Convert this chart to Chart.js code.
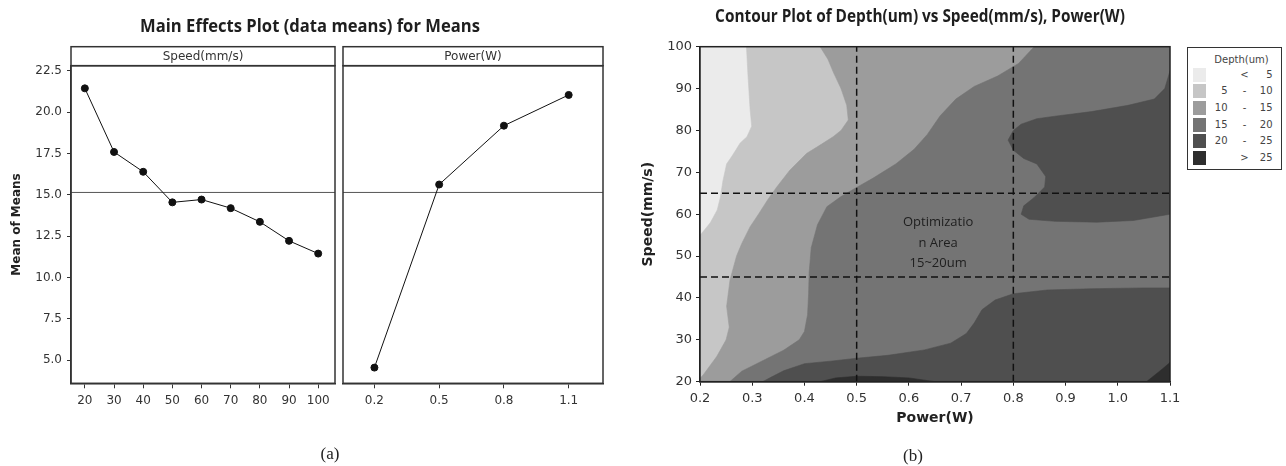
<!DOCTYPE html>
<html><head><meta charset="utf-8">
<script src="https://cdn.jsdelivr.net/npm/chart.js@4.4.1/dist/chart.umd.min.js"></script>
<style>
html,body{margin:0;padding:0;background:#fff;}
#wrap{position:relative;width:1286px;height:466px;overflow:hidden;background:#fff;}
canvas{position:absolute;top:0;}
.title{position:absolute;white-space:nowrap;font-family:"Open Sans",sans-serif;font-weight:700;color:#1e1e1e;transform-origin:center center;line-height:1;}
.cap{position:absolute;font-family:"Liberation Serif",serif;font-size:17px;color:#222;transform:translate(-50%,-50%);line-height:1;}
#legend{position:absolute;left:1187px;top:47px;width:95px;height:123px;border:1.5px solid #333;box-sizing:border-box;font-family:"DejaVu Sans",sans-serif;font-size:10px;color:#444;background:#fff;}
#legend .lgt{position:absolute;left:0;width:100%;top:6px;text-align:center;padding-left:14px;box-sizing:border-box;}
#legend .lgr{position:absolute;left:0;width:100%;height:14px;line-height:14px;}
#legend .sw{position:absolute;left:4.5px;top:0;width:13px;height:14px;}
#legend .l1{position:absolute;left:0;width:39.5px;text-align:right;}
#legend .l2{position:absolute;left:50.5px;width:12px;text-align:center;}
#legend .l3{position:absolute;left:58px;width:26.5px;text-align:right;}
</style></head>
<body><div id="wrap">
<canvas id="cSpeed" width="340" height="466" style="left:0px"></canvas>
<canvas id="cPower" width="282" height="466" style="left:338px"></canvas>
<canvas id="cContour" width="646" height="466" style="left:640px"></canvas>
<div class="title" id="t1">Main Effects Plot (data means) for Means</div>
<div class="title" id="t2">Contour Plot of Depth(um) vs Speed(mm/s), Power(W)</div>
<div class="cap" style="left:330px;top:453px">(a)</div>
<div class="cap" style="left:913px;top:455px">(b)</div>
<div id="legend"></div>
</div>
<script>
// ---------- (a) Main effects data ----------
const speedLevels = [20, 30, 40, 50, 60, 70, 80, 90, 100];
const speedMeans  = [21.45, 17.6, 16.4, 14.55, 14.72, 14.2, 13.37, 12.22, 11.45];
const powerLevels = [0.2, 0.5, 0.8, 1.1];
const powerMeans  = [4.55, 15.63, 19.19, 21.05];
const grandMean   = 15.15;
const meanTicks   = [5, 7.5, 10, 12.5, 15, 17.5, 20, 22.5];
const meanRange   = [3.6, 22.82];
const speedRange  = [15.25, 105.76];
const powerRange  = [0.0545, 1.259];

// ---------- (b) Contour data ----------
const powerTicks = [0.2, 0.3, 0.4, 0.5, 0.6, 0.7, 0.8, 0.9, 1.0, 1.1];
const speedTicks = [20, 30, 40, 50, 60, 70, 80, 90, 100];
const bandColors = ['#ebebeb', '#c6c6c6', '#9c9c9c', '#747474', '#4f4f4f', '#2e2e2e'];
const legendLow  = ['', '5', '10', '15', '20', ''];
const legendSep  = ['<', '-', '-', '-', '-', '>'];
const legendHigh = ['5', '10', '15', '20', '25', '25'];
// contour boundaries, [Power, Speed]
const b5 = [[0.289,100],[0.292,93],[0.296,85],[0.299,81],[0.29,78.5],[0.277,77],[0.262,74],[0.251,72],[0.244,68],[0.239,64],[0.233,61],[0.22,58],[0.207,56],[0.2,55]];
const b10 = [[0.43,100],[0.445,97],[0.455,94],[0.47,90],[0.481,86],[0.484,82.5],[0.47,80],[0.455,78.5],[0.43,76.5],[0.404,74.5],[0.372,70.5],[0.347,66.5],[0.33,63.5],[0.312,60],[0.296,57],[0.28,53],[0.27,50],[0.2575,44.3],[0.251,38],[0.256,33],[0.25,30],[0.232,26],[0.206,21.6],[0.2,20.8]];
const b15 = [[0.84,100],[0.81,96],[0.77,93],[0.725,90.5],[0.69,87.5],[0.66,83.5],[0.635,79],[0.61,75.5],[0.575,72],[0.53,68.5],[0.50,66.4],[0.47,64.2],[0.443,61.8],[0.425,57.5],[0.413,52],[0.409,46],[0.408,41],[0.406,36],[0.40,32],[0.39,30],[0.36,27.5],[0.32,25],[0.28,22.5],[0.257,20]];
const b20upper = [[1.1,94.2],[1.09,90],[1.07,87.5],[1.02,86],[0.95,84.5],[0.88,83.4],[0.845,82.8],[0.815,81.5],[0.80,80],[0.79,77.7],[0.80,75.3],[0.82,73.3],[0.845,72],[0.862,69],[0.86,66.5],[0.84,64],[0.82,62],[0.815,60],[0.83,58.8],[0.88,58.3],[0.96,58.1],[1.03,58.5],[1.1,60]];
const b20lower = [[1.1,42.4],[1.05,42.4],[0.95,42.2],[0.865,41.9],[0.80,41.0],[0.765,39.5],[0.74,37.2],[0.725,34],[0.71,31.5],[0.68,29.2],[0.63,27.6],[0.56,26.3],[0.5,25.6],[0.45,24.9],[0.40,24.3],[0.36,22.6],[0.335,21],[0.32,20]];
const b25bottom = [[0.43,20],[0.46,20.9],[0.5,21.3],[0.55,21.2],[0.6,20.9],[0.65,20]];
const b25corner = [[1.055,20],[1.07,21.5],[1.085,23],[1.1,24.6]];
const powerExtent = [0.2, 1.1];
const speedExtent = [20, 100];
const optPower = [0.5, 0.8];
const optSpeed = [45, 65];
const optLabel = ['Optimizatio', 'n Area', '15~20um'];
const optLabelPower = 0.656;
const optLabelSpeed = [58, 53.1, 48.3];

Chart.defaults.font.family = '"DejaVu Sans", sans-serif';
Chart.defaults.color = '#333';

const AX = '#333';
function fixedTicks(list){ return s => { s.ticks = list.map(v => ({value: v})); }; }

// panel frame + strip + grand mean
const panelPlugin = {
  id: 'panel',
  beforeDatasetsDraw(chart, args, o) {
    const {ctx, chartArea: a, scales: {y}} = chart;
    const py = y.getPixelForValue(o.refValue);
    ctx.save();
    ctx.strokeStyle = '#555'; ctx.lineWidth = 1;
    ctx.beginPath(); ctx.moveTo(a.left, py); ctx.lineTo(a.right, py); ctx.stroke();
    ctx.restore();
  },
  afterDraw(chart, args, o) {
    const {ctx, chartArea: a} = chart;
    ctx.save();
    ctx.strokeStyle = AX; ctx.lineWidth = 1.5;
    ctx.strokeRect(a.left, a.top, a.right - a.left, a.bottom - a.top);
    ctx.strokeRect(a.left, a.top - o.strip, a.right - a.left, o.strip);
    ctx.fillStyle = '#333'; ctx.font = '12px "DejaVu Sans"';
    ctx.textAlign = 'center'; ctx.textBaseline = 'middle';
    ctx.fillText(o.label, (a.left + a.right) / 2, a.top - o.strip / 2 + 1);
    ctx.restore();
  }
};

function effectChart(id, levels, means, xRange, label, showY, padRight) {
  return new Chart(document.getElementById(id), {
    type: 'line',
    data: { datasets: [{
      data: levels.map((v, i) => ({x: v, y: means[i]})),
      borderColor: '#111', borderWidth: 1, pointRadius: 3.5,
      pointBackgroundColor: '#111', pointBorderColor: '#111', fill: false, tension: 0
    }]},
    options: {
      responsive: false, animation: false, events: [], devicePixelRatio: 1,
      layout: { padding: { left: 0, right: padRight, top: 65.7, bottom: 52.7 } },
      plugins: { legend: {display: false}, tooltip: {enabled: false},
        panel: { label: label, strip: 19, refValue: grandMean } },
      scales: {
        x: { type: 'linear', min: xRange[0], max: xRange[1],
          afterBuildTicks: fixedTicks(levels), afterFit: s => { s.height = 30; },
          ticks: { autoSkip: false, maxRotation: 0, padding: 5, font: {size: 12}, color: '#333',
            callback: v => levels === powerLevels ? v.toFixed(1) : String(v) },
          grid: { drawOnChartArea: false, tickLength: 5, color: AX, lineWidth: 1 },
          border: { color: AX, width: 1.5 } },
        y: { type: 'linear', display: showY, min: meanRange[0], max: meanRange[1],
          afterBuildTicks: fixedTicks(meanTicks), afterFit: s => { s.width = showY ? 71 : 0; },
          ticks: { padding: 5, font: {size: 12}, color: '#333', callback: v => v.toFixed(1) },
          grid: { drawOnChartArea: false, tickLength: 4, color: AX, lineWidth: 1 },
          border: { color: AX, width: 1.5 },
          title: { display: true, text: 'Mean of Means', font: {size: 12, weight: 'bold'}, color: '#222',
            padding: { top: 10, bottom: 0 } } }
      }
    },
    plugins: [panelPlugin]
  });
}
effectChart('cSpeed', speedLevels, speedMeans, speedRange, 'Speed(mm/s)', true, 2);
effectChart('cPower', powerLevels, powerMeans, powerRange, 'Power(W)', false, 17);

// ---------- contour ----------
const [P0, P1] = powerExtent, [S0, S1] = speedExtent;
const polys = [
  {band: 0, pts: [[P0,S0],[P0,S1],[P1,S1],[P1,S0]]},
  {band: 1, pts: b5.concat([[P0,S0],[P1,S0],[P1,S1]])},
  {band: 2, pts: b10.concat([[P0,S0],[P1,S0],[P1,S1]])},
  {band: 3, pts: b15.concat([[P1,S0],[P1,S1]])},
  {band: 4, pts: b20upper},
  {band: 4, pts: b20lower.concat([[P1,S0]])},
  {band: 5, pts: b25bottom},
  {band: 5, pts: b25corner.concat([[P1,S0]])}
];
const contourSets = polys.map(p => ({
  data: p.pts.map(([x, y]) => ({x, y})),
  fill: 'shape', backgroundColor: bandColors[p.band], borderColor: bandColors[p.band],
  borderWidth: 0.6, pointRadius: 0, tension: 0, order: 20 - p.band
}));
const dash = { borderColor: '#111', borderWidth: 1.5, borderDash: [7, 4], pointRadius: 0, fill: false, tension: 0, order: 0 };
optPower.forEach(pw => contourSets.push(Object.assign({ data: [{x: pw, y: S0}, {x: pw, y: S1}] }, dash)));
optSpeed.forEach(sp => contourSets.push(Object.assign({ data: [{x: P0, y: sp}, {x: P1, y: sp}] }, dash)));

const contourPlugin = {
  id: 'contourDeco',
  afterDatasetsDraw(chart) {
    const {ctx, chartArea: a, scales: {x, y}} = chart;
    ctx.save();
    ctx.fillStyle = '#1e1e1e'; ctx.font = '13px "Open Sans"';
    ctx.textAlign = 'center'; ctx.textBaseline = 'middle';
    optLabel.forEach((t, i) => ctx.fillText(t, x.getPixelForValue(optLabelPower), y.getPixelForValue(optLabelSpeed[i])));
    ctx.strokeStyle = '#222'; ctx.lineWidth = 1.5;
    ctx.strokeRect(a.left, a.top, a.right - a.left, a.bottom - a.top);
    ctx.restore();
  }
};

new Chart(document.getElementById('cContour'), {
  type: 'line',
  data: { datasets: contourSets },
  options: {
    indexAxis: 'y',
    responsive: false, animation: false, events: [], devicePixelRatio: 1,
    layout: { padding: { left: 0, right: 116, top: 46.7, bottom: 39.3 } },
    plugins: { legend: {display: false}, tooltip: {enabled: false} },
    scales: {
      x: { type: 'linear', min: P0, max: P1, afterBuildTicks: fixedTicks(powerTicks), afterFit: s => { s.height = 45; },
        ticks: { autoSkip: false, maxRotation: 0, padding: 5, font: {size: 13}, color: '#333', callback: v => v.toFixed(1) },
        grid: { drawOnChartArea: false, tickLength: 4, color: '#222', lineWidth: 1 },
        border: { color: '#222', width: 1.5 },
        title: { display: true, text: 'Power(W)', font: {size: 14, weight: 'bold'}, color: '#222', padding: {top: 0, bottom: 0} } },
      y: { type: 'linear', reverse: false, min: S0, max: S1, afterBuildTicks: fixedTicks(speedTicks), afterFit: s => { s.width = 60; },
        ticks: { padding: 4, font: {size: 13}, color: '#333' },
        grid: { drawOnChartArea: false, tickLength: 4, color: '#222', lineWidth: 1 },
        border: { color: '#222', width: 1.5 },
        title: { display: true, text: 'Speed(mm/s)', font: {size: 14, weight: 'bold'}, color: '#222', padding: {top: 0, bottom: 0} } }
    }
  },
  plugins: [contourPlugin]
});

// legend
const lg = document.getElementById('legend');
lg.innerHTML = '<div class="lgt">Depth(um)</div>' + bandColors.map((c, i) =>
  `<div class="lgr" style="top:${(19.5 + i * 16.66).toFixed(1)}px"><span class="sw" style="background:${c}"></span>` +
  `<span class="l1">${legendLow[i]}</span><span class="l2">${legendSep[i]}</span><span class="l3">${legendHigh[i]}</span></div>`).join('');

// titles
function placeTitle(id, cx, cy, size, width) {
  const el = document.getElementById(id);
  el.style.fontSize = size + 'px';
  el.style.left = cx + 'px'; el.style.top = cy + 'px';
  const w = el.offsetWidth;
  el.style.transform = `translate(-50%,-50%) scaleX(${(width / w).toFixed(3)})`;
}
placeTitle('t1', 310, 25, 17, 340);
placeTitle('t2', 920, 15, 17, 410);
</script>
</body></html>
